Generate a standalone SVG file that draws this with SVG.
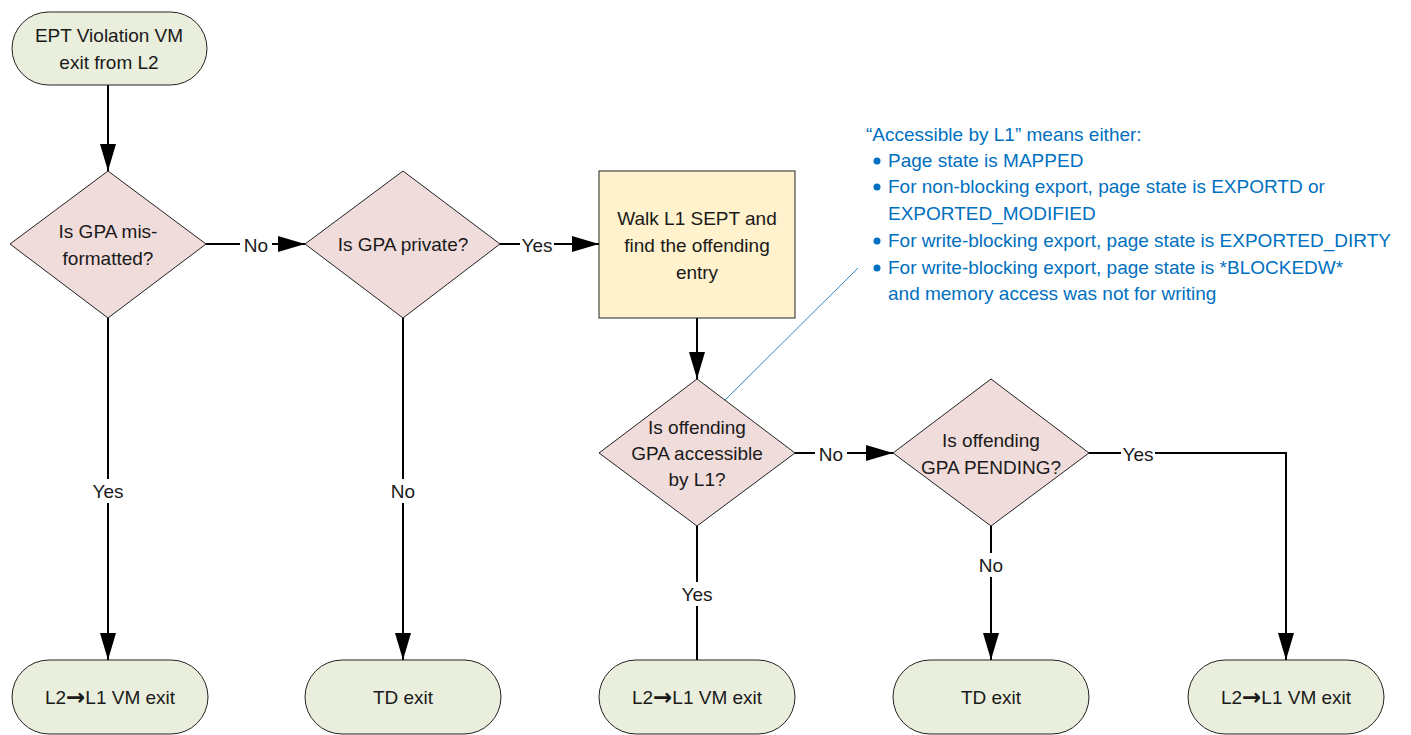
<svg xmlns="http://www.w3.org/2000/svg" width="1411" height="735" viewBox="0 0 1411 735">
<defs>
<marker id="ah" markerUnits="userSpaceOnUse" markerWidth="28" markerHeight="18" refX="27" refY="8" orient="auto">
<path d="M0,0 L27,8 L0,16 z" fill="#000"/>
</marker>
<style>
text{font-family:"Liberation Sans",Arial,sans-serif;font-size:19px;fill:#1a1a1a;text-anchor:middle;dominant-baseline:central}
.term{fill:#E9EFDC;stroke:#222;stroke-width:1}
.dec{fill:#F0DCDB;stroke:#222;stroke-width:1}
.proc{fill:#FFF2CC;stroke:#222;stroke-width:1}
.c{stroke:#000;stroke-width:2;fill:none}
.lbg{fill:#fff}
.ar{font-family:"DejaVu Sans",sans-serif;font-weight:bold;font-size:23px}
.note{fill:#0070C0;text-anchor:start;dominant-baseline:auto}
</style>
</defs>
<rect width="1411" height="735" fill="#fff"/>

<g id="connectors">
<line class="c" x1="108" y1="85" x2="108" y2="171" marker-end="url(#ah)"/>
<line class="c" x1="206" y1="244" x2="305" y2="244" marker-end="url(#ah)"/>
<line class="c" x1="500" y1="244" x2="599" y2="244" marker-end="url(#ah)"/>
<line class="c" x1="697" y1="318" x2="697" y2="379" marker-end="url(#ah)"/>
<line class="c" x1="795" y1="453" x2="893" y2="453" marker-end="url(#ah)"/>
<polyline class="c" points="1089,453 1286,453 1286,660" marker-end="url(#ah)"/>
<line class="c" x1="108" y1="318" x2="108" y2="660" marker-end="url(#ah)"/>
<line class="c" x1="403" y1="318" x2="403" y2="660" marker-end="url(#ah)"/>
<line class="c" x1="697" y1="526" x2="697" y2="660"/>
<line class="c" x1="991" y1="526" x2="991" y2="660" marker-end="url(#ah)"/>
<line x1="714" y1="411" x2="858" y2="268" stroke="#2E86C8" stroke-width="1"/>
<g id="labels">
<rect class="lbg" x="240" y="232" width="32" height="24"/><text x="256" y="245">No</text>
<rect class="lbg" x="520" y="232" width="34" height="24"/><text x="537" y="245">Yes</text>
<rect class="lbg" x="815" y="441" width="32" height="24"/><text x="831" y="454">No</text>
<rect class="lbg" x="1121" y="441" width="34" height="24"/><text x="1138" y="454">Yes</text>
<rect class="lbg" x="90" y="479" width="36" height="24"/><text x="108" y="491">Yes</text>
<rect class="lbg" x="387" y="479" width="32" height="24"/><text x="403" y="491">No</text>
<rect class="lbg" x="679" y="582" width="36" height="24"/><text x="697" y="594">Yes</text>
<rect class="lbg" x="975" y="553" width="32" height="24"/><text x="991" y="565">No</text>
</g>
</g>

<g id="start">
<rect class="term" x="12" y="12" width="195" height="73" rx="36.5"/>
<text x="109" y="35">EPT Violation VM</text>
<text x="109" y="62">exit from L2</text>
</g>
<g id="d1">
<polygon class="dec" points="108,171 206,244 108,318 10,244"/>
<text x="108" y="231">Is GPA mis-</text>
<text x="108" y="258">formatted?</text>
</g>
<g id="d2">
<polygon class="dec" points="403,171 500,244 403,318 305,244"/>
<text x="403" y="244">Is GPA private?</text>
</g>
<g id="walk">
<rect class="proc" x="599" y="171" width="196" height="147"/>
<text x="697" y="218">Walk L1 SEPT and</text>
<text x="697" y="245">find the offending</text>
<text x="697" y="272">entry</text>
</g>
<g id="d3">
<polygon class="dec" points="697,379 795,453 697,526 599,453"/>
<text x="697" y="427">Is offending</text>
<text x="697" y="453">GPA accessible</text>
<text x="697" y="479">by L1?</text>
</g>
<g id="d4">
<polygon class="dec" points="991,379 1089,453 991,526 893,453"/>
<text x="991" y="440">Is offending</text>
<text x="991" y="467">GPA PENDING?</text>
</g>
<g id="t1">
<rect class="term" x="12" y="660" width="196" height="74" rx="37"/>
<text x="110" y="697">L2<tspan class="ar">→</tspan>L1 VM exit</text>
</g>
<g id="t2">
<rect class="term" x="305" y="660" width="196" height="74" rx="37"/>
<text x="403" y="697">TD exit</text>
</g>
<g id="t3">
<rect class="term" x="599" y="660" width="196" height="74" rx="37"/>
<text x="697" y="697">L2<tspan class="ar">→</tspan>L1 VM exit</text>
</g>
<g id="t4">
<rect class="term" x="893" y="660" width="196" height="74" rx="37"/>
<text x="991" y="697">TD exit</text>
</g>
<g id="t5">
<rect class="term" x="1188" y="660" width="196" height="74" rx="37"/>
<text x="1286" y="697">L2<tspan class="ar">→</tspan>L1 VM exit</text>
</g>

<g id="note">
<text class="note" x="866" y="141">“Accessible by L1” means either:</text>
<circle cx="877" cy="161" r="3.5" fill="#0070C0"/>
<text class="note" x="888" y="167">Page state is MAPPED</text>
<circle cx="877" cy="187" r="3.5" fill="#0070C0"/>
<text class="note" x="888" y="193">For non-blocking export, page state is EXPORTD or</text>
<text class="note" x="888" y="220">EXPORTED_MODIFIED</text>
<circle cx="877" cy="241" r="3.5" fill="#0070C0"/>
<text class="note" x="888" y="247">For write-blocking export, page state is EXPORTED_DIRTY</text>
<circle cx="877" cy="268" r="3.5" fill="#0070C0"/>
<text class="note" x="888" y="274">For write-blocking export, page state is *BLOCKEDW*</text>
<text class="note" x="888" y="300">and memory access was not for writing</text>
</g>
</svg>
